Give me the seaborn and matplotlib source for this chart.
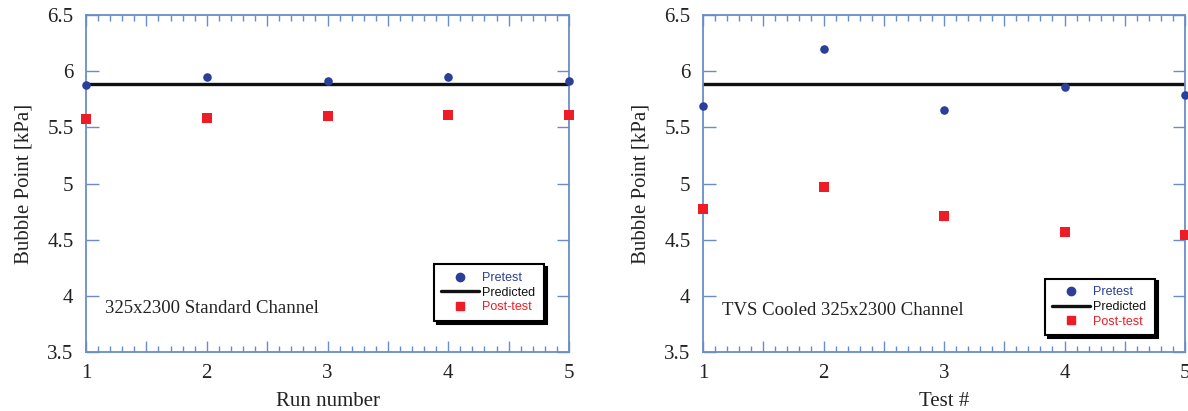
import numpy as np
import pandas as pd
import matplotlib
matplotlib.use("Agg")
import matplotlib.pyplot as plt
import seaborn as sns
from matplotlib.ticker import MultipleLocator, FuncFormatter
from matplotlib.lines import Line2D

# ---- data ----
runs = [1, 2, 3, 4, 5]
left_pretest = [5.88, 5.95, 5.91, 5.95, 5.91]
left_pretest_err = [0.0, 0.0, 0.0, 0.03, 0.0]
left_posttest = [5.57, 5.58, 5.60, 5.61, 5.61]
right_pretest = [5.69, 6.20, 5.65, 5.86, 5.79]
right_pretest_err = [0.0, 0.0, 0.0, 0.02, 0.0]
right_posttest = [4.77, 4.97, 4.71, 4.57, 4.54]
predicted = 5.89
left_xlabel = "Run number"
right_xlabel = "Test #"
ylabel = "Bubble Point [kPa]"
left_note = "325x2300 Standard Channel"
right_note = "TVS Cooled 325x2300 Channel"

BLUE = "#2b3f98"
RED = "#ee1c24"
SPINE = "#6a8cc8"

sns.set_style("white")
plt.rcParams["font.family"] = ["Liberation Serif", "DejaVu Serif"]

fig = plt.figure(figsize=(11.88, 4.11), dpi=100)
W, H = 1188, 411
ax1 = fig.add_axes([86 / W, 1 - 352 / H, (569 - 86) / W, (352 - 15) / H])
ax2 = fig.add_axes([703 / W, 1 - 352 / H, (1185 - 703) / W, (352 - 15) / H])


def draw(ax, pre, pre_err, post, xlabel, note, note_y, leg_box):
    df = pd.DataFrame({"x": runs, "pre": pre, "post": post, "pred": [predicted] * len(runs)})
    sns.lineplot(data=df, x="x", y="pred", ax=ax, color="#111111", lw=2.4, zorder=2)
    ax.errorbar(runs, pre, yerr=pre_err, fmt="none", ecolor=BLUE, elinewidth=1.2, capsize=0, zorder=3, clip_on=False)
    sns.scatterplot(data=df, x="x", y="pre", ax=ax, color=BLUE, marker="o", s=38,
                    edgecolor=BLUE, linewidth=0, zorder=4, clip_on=False)
    sns.scatterplot(data=df, x="x", y="post", ax=ax, color=RED, marker="s", s=42,
                    edgecolor=RED, linewidth=0, zorder=4, clip_on=False)
    ax.set_xlim(1, 5)
    ax.set_ylim(3.5, 6.5)
    ax.xaxis.set_major_locator(MultipleLocator(0.5))
    ax.xaxis.set_minor_locator(MultipleLocator(0.1))
    ax.xaxis.set_major_formatter(FuncFormatter(lambda v, p: f"{int(round(v))}" if abs(v - round(v)) < 1e-6 else ""))
    ax.yaxis.set_major_locator(MultipleLocator(0.5))
    ax.yaxis.set_major_formatter(FuncFormatter(lambda v, p: f"{v:g}"))
    for s in ax.spines.values():
        s.set_visible(True)
        s.set_color(SPINE)
        s.set_linewidth(1.3)
    ax.tick_params(axis="both", which="both", direction="in", color=SPINE, width=1.0,
                   top=True, right=True, bottom=True, left=True)
    ax.tick_params(axis="x", which="major", length=8, pad=9, labelsize=15, labelcolor="#222222")
    ax.tick_params(axis="x", which="minor", length=4)
    ax.tick_params(axis="y", which="major", length=9, pad=9, labelsize=15, labelcolor="#222222")
    ax.set_xlabel(xlabel, fontsize=15, color="#222222", labelpad=6)
    ax.set_ylabel(ylabel, fontsize=15, color="#222222", labelpad=10)
    ax.text(0.04, note_y, note, transform=ax.transAxes, fontsize=13.5, color="#222222", va="center")

    handles = [
        Line2D([], [], ls="none", marker="o", color=BLUE, markersize=6),
        Line2D([], [], color="#111111", lw=2.4),
        Line2D([], [], ls="none", marker="s", color=RED, markersize=6),
    ]
    leg = ax.legend(handles, ["Pretest", "Predicted", "Post-test"], loc="lower left",
                    bbox_to_anchor=leg_box, mode="expand", fancybox=False,
                    shadow={"color": "black", "alpha": 1.0}, framealpha=1,
                    edgecolor="black", handlelength=3.0, handletextpad=0.25,
                    labelspacing=0.22, borderpad=0.6, borderaxespad=0,
                    prop={"family": "Liberation Sans", "size": 9})
    leg.get_frame().set_linewidth(1.5)
    for t, c in zip(leg.get_texts(), [BLUE, "#111111", RED]):
        t.set_color(c)


draw(ax1, left_pretest, left_pretest_err, left_posttest, left_xlabel, left_note, 0.128,
     (0.720, 0.092, 0.228, 0.166))
draw(ax2, right_pretest, right_pretest_err, right_posttest, right_xlabel, right_note, 0.122,
     (0.7095, 0.050, 0.228, 0.163))

fig.savefig("out.png", dpi=100)
